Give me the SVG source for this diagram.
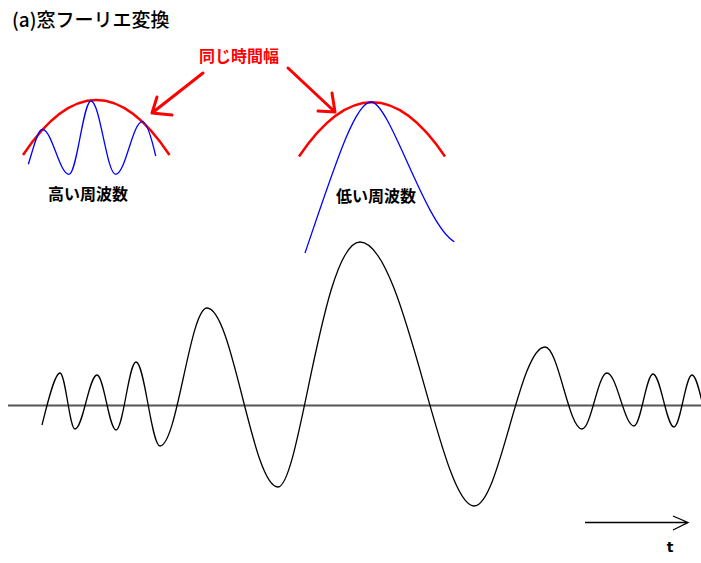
<svg xmlns="http://www.w3.org/2000/svg" width="701" height="563" viewBox="0 0 701 563">
<style>
.bg{fill:#fff}
.sig{fill:none;stroke:#000;stroke-width:1.3}
.axis{fill:none;stroke:#555;stroke-width:2}
.blue{fill:none;stroke:#0000ff;stroke-width:1.3}
.win{fill:none;stroke:#ff0000;stroke-width:2.5}
.rarrow{fill:none;stroke:#ff0000;stroke-width:3;stroke-linecap:round;stroke-linejoin:round}
.tarrow{fill:none;stroke:#000;stroke-width:1.3}
.title{font-family:"Noto Sans CJK JP","Noto Sans",sans-serif;font-size:19px;font-weight:500;fill:#000}
.lbl{font-family:"Noto Sans CJK JP","Noto Sans",sans-serif;font-size:16px;font-weight:bold;fill:#000;text-anchor:middle}
.rlbl{font-family:"Noto Sans CJK JP","Noto Sans",sans-serif;font-size:16px;font-weight:bold;fill:#ff0000;text-anchor:middle}
.t{font-family:"DejaVu Sans","Noto Sans",sans-serif;font-size:14px;font-weight:bold;fill:#000;text-anchor:middle}
</style>
<rect class="bg" x="0" y="0" width="701" height="563"/>
<text class="title" x="12" y="27">(a)窓フーリエ変換</text>
<g id="axis"><line class="axis" x1="8" y1="405.5" x2="701" y2="405.5"/></g>
<g id="signal">
<path class="sig" d="M42,425 C47,405 54.5,373 60,373 C65.45,373 69.55,429 75,429 C83,429 89,375 97,375 C103.9,375 109.1,430 116,430 C123.3,430 128.7,362 136,362 C144.7,362 151.3,446 160,446 C177.1,446 189.9,308 207,308 C232.8,308 252.2,487 278,487 C300,487 322,242 360,242 C405,242 440,506 474,506 C499.8,506 519.2,347 545,347 C558.4,347 568.6,429 582,429 C591.1,429 597.9,373 607,373 C616.8,373 624.2,426 634,426 C640.9,426 646.1,374 653,374 C660.6,374 666.4,427 674,427 C680.5,427 685.5,375 692,375 C699.3,375 704.7,428 712,428"/>
</g>
<g id="high-freq">
<path class="win" d="M23,155 Q96.3,45 169.5,155"/>
<path class="blue" d="M28.3,164.3 C33,150 37.5,129.3 42.3,129.3 C52,129.3 59.3,174.3 69,174.3 C77,174.3 83,101 91,101 C100,101 106.7,174.3 115.7,174.3 C125.4,174.3 132.6,121.7 142.3,121.7 C147,121.7 152,140 155.7,156"/>
<text class="lbl" x="88" y="200">高い周波数</text>
</g>
<g id="low-freq">
<path class="win" d="M299,156.5 Q372,48 445,156.5"/>
<path class="blue" d="M305,253 C335,165 355,102 371,102 C390,102 425,225 454.3,241.7"/>
<text class="lbl" x="376" y="202">低い周波数</text>
</g>
<g id="same-width">
<text class="rlbl" x="239" y="62">同じ時間幅</text>
</g>
<g id="connectors">
<path class="rarrow" d="M203,73 L152,113 M157,97 L152,113 L172,115"/>
<path class="rarrow" d="M288,68 L335,112 M332,93 L335,112 L318,111"/>
<path class="tarrow" d="M585,522.5 L688,522.5 M673,516 L688,522.5 L673,530"/>
</g>
<text class="t" x="670" y="552">t</text>
</svg>
